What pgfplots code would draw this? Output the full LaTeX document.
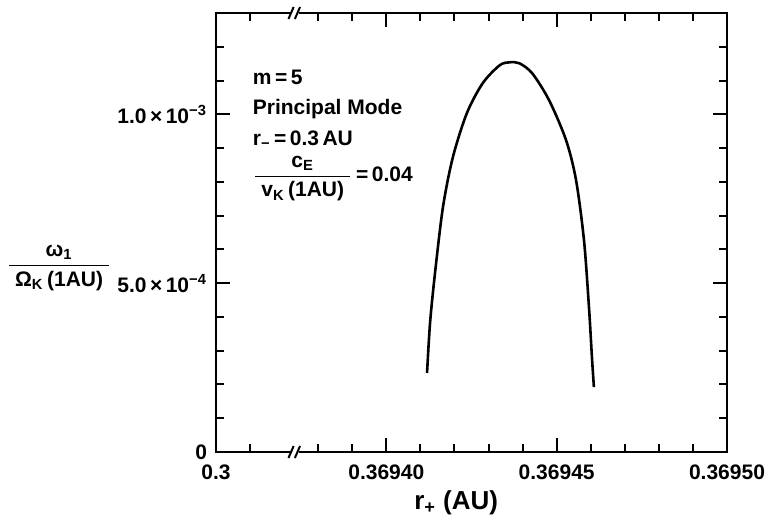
\documentclass[border=0pt]{standalone}
\usepackage{fontspec}
\setmainfont{Liberation Sans}
\usepackage{amsmath}
\usepackage{pgfplots}
\pgfplotsset{compat=1.18}
% x: offset from 0.36940 AU in units of 1e-5 AU (left end stands for 0.3, past the break)
% y: omega_1 / Omega_K(1AU) in units of 1e-4
\begin{document}
\begin{tikzpicture}
\begin{axis}[
  name=ax,
  width=255.5pt, height=219.5pt, scale only axis,
  xmin=-5, xmax=10, ymin=0, ymax=13,
  axis line style={line width=1.4pt},
  xtick={-5,0,5,10}, xticklabels={0.3,0.36940,0.36945,0.36950},
  minor xtick={-4,-2,-1,1,2,3,4,6,7,8,9},
  ytick={0,5,10}, yticklabels={0,5.0\,×\,10\textsuperscript{−4},1.0\,×\,10\textsuperscript{−3}},
  minor ytick={1,2,3,4,6,7,8,9,11,12},
  tick align=inside, major tick length=7pt, minor tick length=4pt,
  every tick/.style={line width=1pt, black},
  tick label style={font=\fontsize{10.5}{12}\selectfont\bfseries},
  xticklabel style={yshift=-3pt},
  yticklabel style={xshift=-1pt},
  clip=false,
]
\addplot[line width=1.3pt, smooth, tension=0.5] coordinates {
  (1.195,2.34) (1.283,3.82) (1.429,5.30) (1.662,7.25) (1.953,8.73)
  (2.362,10.03) (2.828,10.92) (3.324,11.45) (3.615,11.54) (3.907,11.51)
  (4.286,11.21) (4.781,10.41) (5.277,9.23) (5.569,8.05) (5.802,6.27)
  (5.948,4.29) (6.035,2.81) (6.093,1.92)
};
% axis breaks
\fill[white] ([xshift=-2pt,yshift=-1.2pt]axis cs:-2.65,0) rectangle ([xshift=1.5pt,yshift=1.2pt]axis cs:-2.65,0);
\draw[line width=1pt] ([xshift=-3.8pt,yshift=-3pt]axis cs:-2.65,0) -- ([xshift=-1.2pt,yshift=3pt]axis cs:-2.65,0);
\draw[line width=1pt] ([xshift=-0.6pt,yshift=-3pt]axis cs:-2.65,0) -- ([xshift=2pt,yshift=3pt]axis cs:-2.65,0);
\fill[white] ([xshift=-2pt,yshift=-1.2pt]axis cs:-2.65,13) rectangle ([xshift=1.5pt,yshift=1.2pt]axis cs:-2.65,13);
\draw[line width=1pt] ([xshift=-3.8pt,yshift=-3pt]axis cs:-2.65,13) -- ([xshift=-1.2pt,yshift=3pt]axis cs:-2.65,13);
\draw[line width=1pt] ([xshift=-0.6pt,yshift=-3pt]axis cs:-2.65,13) -- ([xshift=2pt,yshift=3pt]axis cs:-2.65,13);
% annotations
\begin{scope}[every node/.style={font=\fontsize{10.5}{12}\selectfont\bfseries, inner sep=0pt}]
\node[anchor=base west] at (axis cs:-3.93,10.87) {m\,=\,5};
\node[anchor=base west] at (axis cs:-3.93,9.98) {Principal Mode};
\node[anchor=base west] at (axis cs:-3.93,9.09) {r\textsubscript{−}\,=\,0.3\,AU};
\node[anchor=west] at (axis cs:-3.93,8.10) {$\dfrac{\text{c}_{\text{E}}}{\;\text{v}_{\text{K}}\text{\,(1AU)}\;}\text{\,=\,0.04}$};
\node[anchor=east] at ([xshift=-52pt]axis cs:-5,5.45) {$\dfrac{\text{ω}_{\text{1}}}{\;\text{Ω}_{\text{K}}\text{\,(1AU)}\;}$};
\node[anchor=center, font=\fontsize{13}{15}\selectfont\bfseries] at ([yshift=-25.5pt]axis cs:2.05,0) {r\textsubscript{+}\;(AU)};
\end{scope}
\end{axis}
\pgfresetboundingbox
\path ([shift={(-108pt,-34.5pt)}]ax.south west) rectangle ([shift={(20.5pt,6.5pt)}]ax.north east);
\end{tikzpicture}
\end{document}
